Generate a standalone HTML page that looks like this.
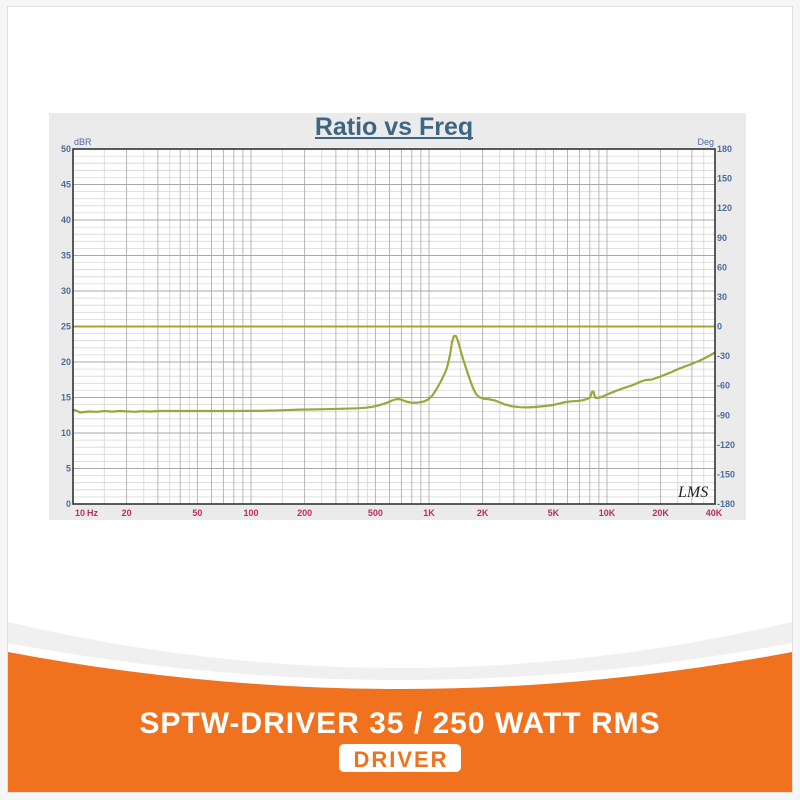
<!DOCTYPE html>
<html><head><meta charset="utf-8"><style>
html,body{margin:0;padding:0;background:#f6f6f6;}
svg{display:block;}
</style></head><body>
<svg width="800" height="800" viewBox="0 0 800 800" xmlns="http://www.w3.org/2000/svg">
<rect x="0" y="0" width="800" height="800" fill="#f6f6f6"/>
<rect x="7.5" y="6.5" width="785" height="786" fill="#ffffff" stroke="#e0e0e0" stroke-width="1"/>
<!-- chart panel -->
<rect x="49" y="113" width="697" height="407" fill="#ebebeb"/>
<rect x="73" y="149" width="642" height="355" fill="#ffffff"/>
<!-- minor horizontal -->
<path stroke="#d8d8d8" stroke-width="0.8" fill="none" d="M73 496.9H715M73 489.8H715M73 482.7H715M73 475.6H715M73 461.4H715M73 454.3H715M73 447.2H715M73 440.1H715M73 425.9H715M73 418.8H715M73 411.7H715M73 404.6H715M73 390.4H715M73 383.3H715M73 376.2H715M73 369.1H715M73 354.9H715M73 347.8H715M73 340.7H715M73 333.6H715M73 319.4H715M73 312.3H715M73 305.2H715M73 298.1H715M73 283.9H715M73 276.8H715M73 269.7H715M73 262.6H715M73 248.4H715M73 241.3H715M73 234.2H715M73 227.1H715M73 212.9H715M73 205.8H715M73 198.7H715M73 191.6H715M73 177.4H715M73 170.3H715M73 163.2H715M73 156.1H715"/>
<!-- minor vertical (half steps) -->
<path stroke="#d4d4d4" stroke-width="0.8" fill="none" d="M104.3 149V504M143.8 149V504M169.8 149V504M189.3 149V504M282.3 149V504M321.8 149V504M347.8 149V504M367.3 149V504M460.3 149V504M499.8 149V504M525.8 149V504M545.3 149V504M638.3 149V504M677.8 149V504M703.8 149V504"/>
<!-- major vertical -->
<path stroke="#b0b0b0" stroke-width="0.9" fill="none" d="M126.6 149V504M157.9 149V504M180.2 149V504M197.4 149V504M211.5 149V504M223.4 149V504M233.8 149V504M242.9 149V504M251 149V504M304.6 149V504M335.9 149V504M358.2 149V504M375.4 149V504M389.5 149V504M401.4 149V504M411.8 149V504M420.9 149V504M429 149V504M482.6 149V504M513.9 149V504M536.2 149V504M553.4 149V504M567.5 149V504M579.4 149V504M589.8 149V504M598.9 149V504M607 149V504M660.6 149V504M691.9 149V504"/>
<!-- major horizontal -->
<path stroke="#a8a8a8" stroke-width="0.9" fill="none" d="M73 468.5H715M73 433H715M73 397.5H715M73 362H715M73 291H715M73 255.5H715M73 220H715M73 184.5H715"/>
<!-- phase 0 line -->
<path stroke="#a9a334" stroke-width="2" fill="none" d="M73 326.5H715"/>
<!-- curve -->
<polyline fill="none" stroke="#9ba63b" stroke-width="2.2" stroke-linejoin="round" stroke-linecap="round" points="73,410 76,410.5 80,412.5 84,412 90,411.5 97,411.8 105,411 112,411.6 120,411 128,411.4 135,411.8 142,411.2 150,411.5 160,411 180,411 200,411 230,411 260,410.8 280,410.3 300,409.6 320,409.3 340,408.8 357,408.3 365,407.8 373,406.7 380,405 387,402.7 392,400.5 397,399 401,399.5 406,401.5 412,402.8 418,402.6 424,401.5 428,399.5 432,396 436,390 440,383 444,375 447,368 450,355 452,342 454,336 456,336 458,341 461,352 464,362 467,371 470,380 473,388 476,394 479,397 483,398.6 490,399.4 495,400.5 500,402.5 505,404.5 512,406.3 520,407.2 528,407.4 535,407 545,406 553,405 560,403.3 566,402 572,401.3 578,401 583,400.2 587,399 590,397.5 592,392 593.5,391.5 595,397.5 597,398 600,397.5 605,395.5 610,393.3 617,390.5 623,388.3 633,385 641,381.5 646,380 652,379.5 660,376.7 670,372.7 680,368.3 690,364.6 700,360.5 708,356.5 714,353"/>
<!-- border -->
<rect x="73" y="149" width="642" height="355" fill="none" stroke="#333333" stroke-width="1.6"/>
<!-- title -->
<text x="394" y="135" text-anchor="middle" font-family="Liberation Sans, sans-serif" font-weight="bold" font-size="25" fill="#3e6582">Ratio vs Freq</text>
<rect x="315" y="137" width="158" height="2" fill="#3e6582"/>
<!-- left labels -->
<g font-family="Liberation Sans, sans-serif" font-size="9" font-weight="bold" fill="#4a6c9b" text-anchor="end">
<text x="71" y="152">50</text><text x="71" y="187.5">45</text><text x="71" y="223">40</text><text x="71" y="258.5">35</text><text x="71" y="294">30</text><text x="71" y="329.5">25</text><text x="71" y="365">20</text><text x="71" y="400.5">15</text><text x="71" y="436">10</text><text x="71" y="471.5">5</text><text x="71" y="507">0</text>
</g>
<g font-family="Liberation Sans, sans-serif" font-size="9" font-weight="bold" fill="#4a6c9b" text-anchor="start">
<text x="717" y="152">180</text><text x="717" y="181.6">150</text><text x="717" y="211.2">120</text><text x="717" y="240.8">90</text><text x="717" y="270.3">60</text><text x="717" y="299.9">30</text><text x="717" y="329.5">0</text><text x="717" y="359.1">-30</text><text x="717" y="388.7">-60</text><text x="717" y="418.3">-90</text><text x="717" y="447.8">-120</text><text x="717" y="477.4">-150</text><text x="717" y="507">-180</text>
</g>
<g font-family="Liberation Sans, sans-serif" font-size="9" fill="#4a6c9b">
<text x="74" y="145">dBR</text><text x="714" y="145" text-anchor="end">Deg</text>
</g>
<!-- bottom labels -->
<g font-family="Liberation Sans, sans-serif" font-size="9" font-weight="bold" fill="#b8305a" text-anchor="middle">
<text x="75" y="516" text-anchor="start">10</text><text x="87" y="516" text-anchor="start">Hz</text>
<text x="126.6" y="516">20</text><text x="197.4" y="516">50</text><text x="251" y="516">100</text><text x="304.6" y="516">200</text><text x="375.4" y="516">500</text><text x="429" y="516">1K</text><text x="482.6" y="516">2K</text><text x="553.4" y="516">5K</text><text x="607" y="516">10K</text><text x="660.6" y="516">20K</text><text x="714" y="516">40K</text>
</g>
<text x="678" y="497" font-family="Liberation Serif, serif" font-style="italic" font-size="16" fill="#222">LMS</text>
<!-- footer -->
<path d="M8 622 Q400 714 792 622 L792 643 Q400 717 8 643 Z" fill="#f0f0f0"/>
<path d="M8 652 Q400 726 792 652 L792 792 L8 792 Z" fill="#f0721e"/>
<text x="400" y="733" text-anchor="middle" font-family="Liberation Sans, sans-serif" font-weight="bold" font-size="30" letter-spacing="1" fill="#ffffff">SPTW-DRIVER 35 / 250 WATT RMS</text>
<rect x="339" y="744" width="122" height="28" rx="5" fill="#ffffff"/>
<text x="401" y="767" text-anchor="middle" font-family="Liberation Sans, sans-serif" font-weight="bold" font-size="22" letter-spacing="2" fill="#f0721e">DRIVER</text>
</svg>
</body></html>
